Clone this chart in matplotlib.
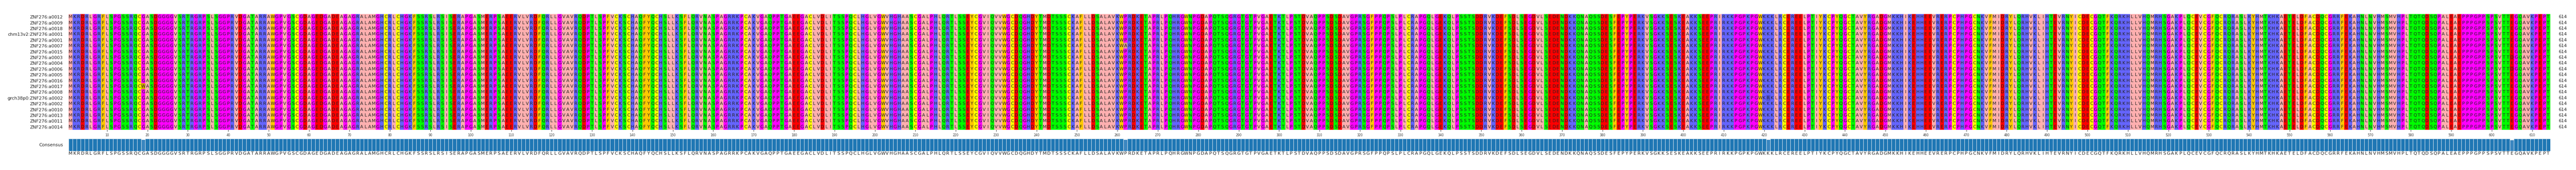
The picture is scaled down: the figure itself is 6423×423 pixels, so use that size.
import numpy as np
import matplotlib
matplotlib.use("Agg")
import matplotlib.pyplot as plt
from matplotlib.colors import to_rgb

names = ["ZNF276:a0012", "ZNF276:a0009", "ZNF276:a0018", "chm13v2:ZNF276:a0001",
         "ZNF276:a0001", "ZNF276:a0007", "ZNF276:a0015", "ZNF276:a0003",
         "ZNF276:a0004", "ZNF276:a0006", "ZNF276:a0005", "ZNF276:a0016",
         "ZNF276:a0017", "ZNF276:a0008", "grch38p0:ZNF276:a0002", "ZNF276:a0002",
         "ZNF276:a0010", "ZNF276:a0013", "ZNF276:a0011", "ZNF276:a0014"]

consensus_parts = [
    "MKRDRLGRFLSPGSSRQCGASDG",
    "GGGVSRTRGRPSLSGGPRVDGATARRAWGPVGSCGDAGEDGADEAGAGRALAMGHC",
    "RLCHGKFSSRSLRSISERAPGASMERPSAEERVLVRDFQRLLGVAVRQDPTLSPFV",
    "CKSCHAQFYQCHSLLKSFLQRVNASPAGRRKPCAKVGAQPPTGAEEGACLVDLITS",
    "SPQCLHGLVGWVHGHAASCGALPHLQRTLSSEYCGVIQVVWGCDQGHDYTMDTSSS",
    "CKAFLLDSALAVKWPRDKETAPRLPQHRGWNPGDAPQTSQGRGTGTPVGAETKTLP",
    "STDVAQPPSDSDAVGPRSGFPPQPSLPLCRAPGQLGEKQLPSSTSDDRVKDEFSDL",
    "SEGDVLSEDENDKKQNAQSSDESFEPYPERKVSGKKSESKEAKKSEEPRIRKKPGPK",
    "PGWKKKLRCEREELPTIYKCPYQGCTAVYRGADGMKKHIKEHHEEVRERPCPHPGC",
    "NKVFMIDRYLQRHVKLIHTEVRNYICDECGQTFKQRKHLLVHQMRHSGAKPLQCEV",
    "CGFQCRQRASLKYHMTKHKAETELDFACDQCGRRFEKAHNLNVHMSMVHPLTQTQD",
    "SQPA",
    "LEAEPPPGPPSPSVTTEGQAVKPEPT",
]
# variants: (row index, position 1-based, residue)
variants = [(12, 19, "W"), (7, 605, "D"), (9, 605, "D"), (5, 262, "A"), (14, 421, "R")]
seq_len = 614

consensus = "".join(consensus_parts)
consensus = (consensus + "A" * seq_len)[:seq_len]
rows = [list(consensus) for _ in names]
for r, p, aa in variants:
    rows[r][p - 1] = aa

zappo = {}
for aa in "ILVAM": zappo[aa] = "#ffafaf"
for aa in "FWY": zappo[aa] = "#ffc800"
for aa in "KRH": zappo[aa] = "#6464ff"
for aa in "DE": zappo[aa] = "#ff0000"
for aa in "STNQ": zappo[aa] = "#00ff00"
for aa in "PG": zappo[aa] = "#ff00ff"
zappo["C"] = "#ffff00"

W, H = 6424, 423
fig = plt.figure(figsize=(W / 100, H / 100), dpi=100)
x0, x1 = 171, 171 + seq_len * 10.078
ax = fig.add_axes([x0 / W, 1 - 323 / H, (x1 - x0) / W, (323 - 35) / H])
nrow = len(names)
img = np.array([[to_rgb(zappo.get(c, "#ffffff")) for c in row] for row in rows])
hl = np.zeros((nrow, seq_len), bool)
for r, p, aa in variants:
    hl[r, p - 1] = True
img[hl] = img[hl] * 0.85
ax.imshow(img, aspect="auto", extent=(0.5, seq_len + 0.5, nrow - 0.5, -0.5), interpolation="nearest")
for i, row in enumerate(rows):
    for j, c in enumerate(row):
        ax.text(j + 1, i, c, ha="center", va="center", fontsize=8, color="#222222")
    ax.text(seq_len + 2.5, i, str(seq_len), ha="left", va="center", fontsize=8, color="#222222")
ax.set_yticks(range(nrow))
ax.set_yticklabels(names, fontsize=8, color="#222222")
ax.tick_params(axis="y", length=0, pad=10)
ax.set_xticks(range(10, seq_len + 1, 10))
ax.tick_params(axis="x", labelsize=5.5, length=3, colors="#333333")
for s in ax.spines.values():
    s.set_visible(False)
ax.set_xlim(0.5, seq_len + 0.5)
ax.set_ylim(nrow - 0.5, -0.5)

# consensus
arr = np.array(rows)
frac = np.array([(arr[:, j] == consensus[j]).mean() for j in range(seq_len)])
cax = fig.add_axes([x0 / W, 1 - 376 / H, (x1 - x0) / W, (376 - 345) / H])
cols = ["#1f77b4" if f == 1 else "#3a86c0" for f in frac]
cax.bar(np.arange(1, seq_len + 1), frac, width=1.0, color=cols, edgecolor="#d8e4ee", linewidth=0.8)
cax.set_xlim(0.5, seq_len + 0.5)
cax.set_ylim(0, 1)
cax.set_xticks([])
cax.set_yticks([0.5])
cax.set_yticklabels(["Consensus"], fontsize=8, color="#222222")
cax.tick_params(axis="y", length=0, pad=10)
for s in cax.spines.values():
    s.set_visible(False)
for j, c in enumerate(consensus):
    cax.text(j + 1, -0.2, c, ha="center", va="center", fontsize=8, color="#222222",
             transform=cax.get_xaxis_transform())

fig.savefig("out.png", dpi=100)
